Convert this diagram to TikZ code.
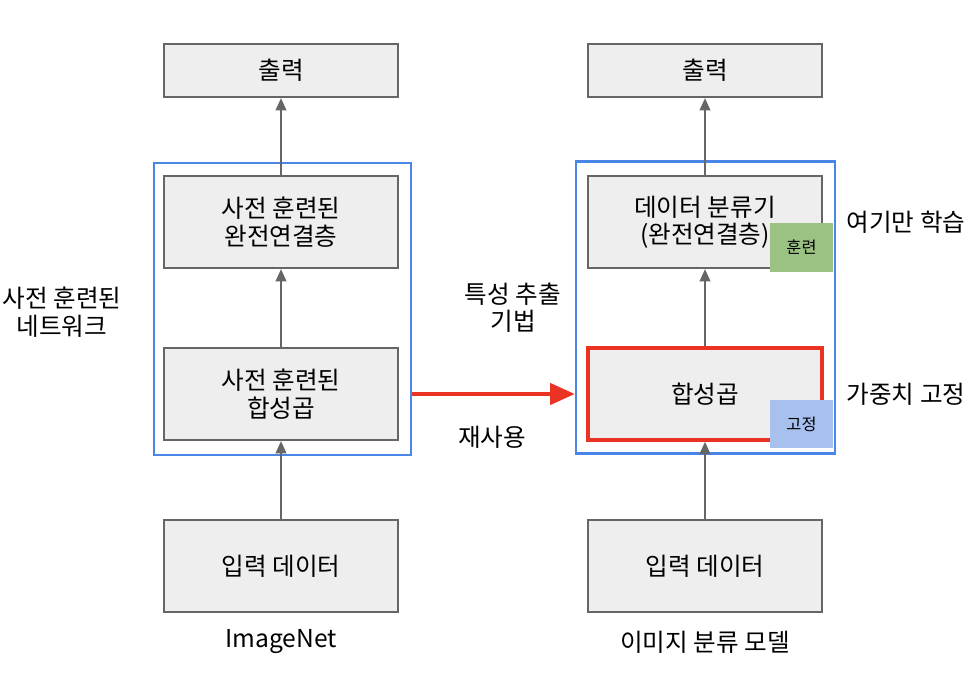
\documentclass[tikz,border=0pt]{standalone}
\usepackage{fontspec}
\setmainfont{Noto Sans CJK KR}
\usetikzlibrary{positioning,arrows.meta}

\definecolor{boxgray}{HTML}{EEEEEE}
\definecolor{edgegray}{HTML}{666666}
\definecolor{netblue}{HTML}{4A86E8}
\definecolor{reusered}{HTML}{EA3323}
\definecolor{traingreen}{HTML}{9BC183}
\definecolor{fixblue}{HTML}{A7C0EE}

\begin{document}
\begin{tikzpicture}[x=0.02cm,y=-0.02cm,font=\fontsize{14}{15.6}\selectfont]
  \tikzstyle{layer}=[draw=edgegray,line width=1.2pt,fill=boxgray,minimum width=4.68cm,minimum height=1.84cm,align=center,inner sep=0pt]
  \tikzstyle{outbox}=[layer,minimum height=1.06cm]
  \tikzstyle{netframe}=[draw=netblue,line width=1.4pt,minimum height=5.84cm,inner sep=0pt]
  \tikzstyle{tag}=[minimum width=1.26cm,minimum height=0.97cm,inner sep=0pt,font=\fontsize{9.3}{11}\selectfont]
  \tikzstyle{flow}=[draw=edgegray,line width=1.2pt,-{Triangle[length=7pt,width=6pt]}]
  \tikzstyle{note}=[align=center]
  \useasboundingbox (0,0) rectangle (978,676);
  % left: pretrained network
  \node[netframe,minimum width=5.14cm] (net1) at (282.5,309) {};
  \node[outbox] (out1) at (281,70.5) {출력};
  \node[layer] (fc1) at (281,222) {사전 훈련된\\완전연결층};
  \node[layer] (conv1) at (281,394) {사전 훈련된\\합성곱};
  \node[layer] (in1) at (281,566) {입력 데이터};
  \draw[flow] (in1) -- (conv1);
  \draw[flow] (conv1) -- (fc1);
  \draw[flow] (fc1) -- (out1);
  \node[note] (name1) at (62,312) {사전 훈련된\\네트워크};
  \node[note] (data1) at (281,642) {ImageNet};
  % right: image classifier
  \node[netframe,minimum width=5.18cm] (net2) at (705.5,307.5) {};
  \node[outbox] (out2) at (705,70.5) {출력};
  \node[layer] (fc2) at (705,222) {데이터 분류기\\(완전연결층)};
  \node[layer,draw=reusered,line width=2pt] (conv2) at (705,394) {합성곱};
  \node[layer] (in2) at (705,566) {입력 데이터};
  \node[tag,fill=traingreen] (train) at (801.5,247.5) {훈련};
  \node[tag,fill=fixblue] (fix) at (801.5,424) {고정};
  \draw[flow] (in2) -- (conv2);
  \draw[flow] (conv2) -- (fc2);
  \draw[flow] (fc2) -- (out2);
  \node[note] (data2) at (705,642) {이미지 분류 모델};
  \node[note] (learn) at (906,222) {여기만 학습};
  \node[note] (freeze) at (906,394) {가중치 고정};
  % reuse
  \draw[reusered,line width=2.2pt,-{Triangle[length=14pt,width=12pt]}] (conv1 -| net1.east) -- (conv1 -| net2.west);
  \node[note] (method) at (513,308) {특성 추출\\기법};
  \node[note] (reuse) at (492,437) {재사용};
\end{tikzpicture}
\end{document}
